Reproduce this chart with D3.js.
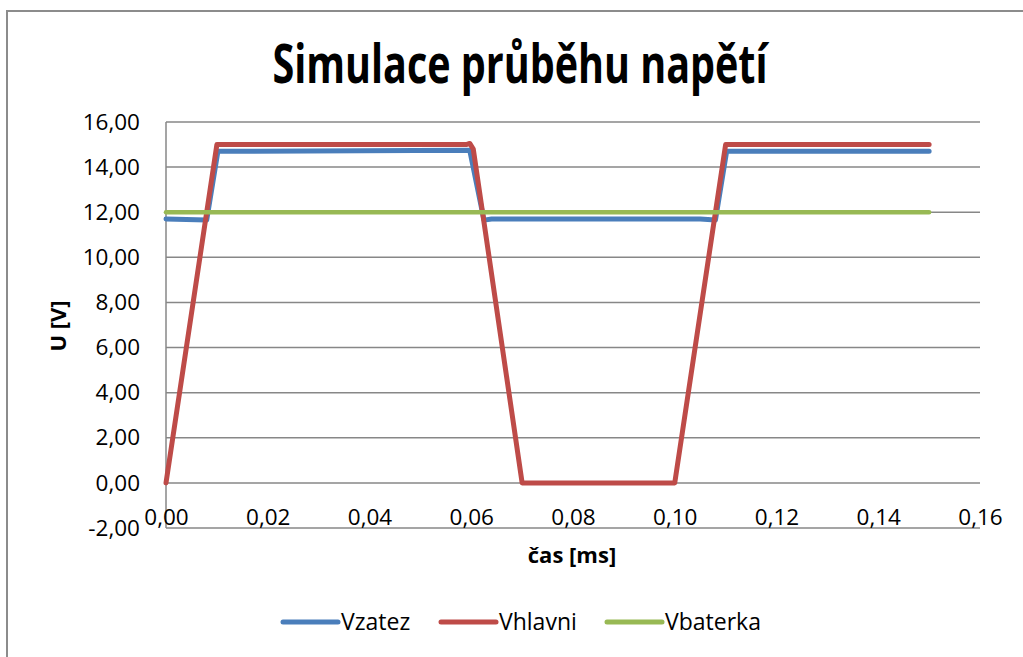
<!DOCTYPE html>
<meta charset="utf-8">
<script src="https://d3js.org/d3.v7.min.js"></script>
<style>
  body { margin: 0; background: #fff; }
  text { font-family: "Open Sans", sans-serif; fill: #000; }
</style>
<body>
<svg width="1023" height="657"></svg>
<script>
// data (time in ms, voltage in V)
var xTicks = [0, 0.02, 0.04, 0.06, 0.08, 0.10, 0.12, 0.14, 0.16];
var yTicks = [-2, 0, 2, 4, 6, 8, 10, 12, 14, 16];
var seriesNames = ["Vzatez", "Vhlavni", "Vbaterka"];
var seriesColors = ["#4a7ebb", "#be4b48", "#98b954"];

var vzatez = [[0, 11.7], [0.008, 11.65], [0.0102, 14.7], [0.0597, 14.75], [0.0625, 11.65],
              [0.064, 11.7], [0.105, 11.7], [0.108, 11.65], [0.1102, 14.7], [0.15, 14.7]];
var vhlavni = [[0, 0], [0.01, 15], [0.059, 15], [0.0597, 15.05], [0.0604, 14.8], [0.07, 0],
               [0.1, 0], [0.11, 15], [0.15, 15]];
var vbaterka = [[0, 12], [0.15, 12]];

var svg = d3.select("svg");
var f2 = d3.formatLocale({decimal: ",", thousands: " ", grouping: [3], currency: ["", ""], minus: "-"}).format(".2f");

var x = d3.scaleLinear().domain([0, 0.16]).range([166, 980]);
var y = d3.scaleLinear().domain([-2, 16]).range([528, 122]);

// chart border
svg.append("rect").attr("x", 7).attr("y", 11).attr("width", 1040).attr("height", 680)
  .attr("fill", "none").attr("stroke", "#8c8c8c").attr("stroke-width", 2);

// title
svg.append("text").attr("x", 520).attr("y", 83).attr("text-anchor", "middle")
  .attr("font-size", 54).attr("font-weight", "bold")
  .attr("textLength", 495).attr("lengthAdjust", "spacingAndGlyphs")
  .text("Simulace průběhu napětí");

// gridlines
svg.append("g").selectAll("line").data(yTicks).join("line")
  .attr("x1", x(0)).attr("x2", x(0.16))
  .attr("y1", d => y(d)).attr("y2", d => y(d))
  .attr("stroke", "#878787").attr("stroke-width", 1.5);

// left axis line
svg.append("line").attr("x1", x(0)).attr("x2", x(0)).attr("y1", y(16)).attr("y2", y(-2))
  .attr("stroke", "#878787").attr("stroke-width", 1.5);

// y axis labels
var yAxis = svg.append("g").attr("transform", "translate(" + x(0) + ",0)")
  .call(d3.axisLeft(y).tickValues(yTicks).tickFormat(f2).tickSize(0).tickPadding(26));
yAxis.select(".domain").remove();
yAxis.selectAll("text").attr("font-size", 22.5).attr("font-family", "Open Sans").attr("fill", "#000");

// x axis labels sit above the bottom line
var xAxis = svg.append("g").attr("transform", "translate(0," + y(-2) + ")")
  .call(d3.axisTop(x).tickValues(xTicks).tickFormat(f2).tickSize(0).tickPadding(3));
xAxis.select(".domain").remove();
xAxis.selectAll("text").attr("font-size", 22.5).attr("font-family", "Open Sans").attr("fill", "#000");

// axis titles
svg.append("text").attr("x", 572).attr("y", 563).attr("text-anchor", "middle")
  .attr("font-size", 22).attr("font-weight", "bold").text("čas [ms]");
svg.append("text").attr("transform", "translate(66,326) rotate(-90)").attr("text-anchor", "middle")
  .attr("font-size", 22).attr("font-weight", "bold").text("U [V]");

// lines
var line = d3.line().x(d => x(d[0])).y(d => y(d[1]));
var allSeries = [vzatez, vhlavni, vbaterka];
svg.append("g").selectAll("path").data(allSeries).join("path")
  .attr("d", line)
  .attr("fill", "none")
  .attr("stroke", (d, i) => seriesColors[i])
  .attr("stroke-width", (d, i) => i == 2 ? 4.5 : 5)
  .attr("stroke-linejoin", "round")
  .attr("stroke-linecap", "round");

// legend
var legendX = [283, 441, 607];
var lg = svg.append("g").selectAll("g").data(seriesNames).join("g")
  .attr("transform", (d, i) => "translate(" + legendX[i] + ",622)");
lg.append("line").attr("x1", 0).attr("x2", 55).attr("y1", 0).attr("y2", 0)
  .attr("stroke", (d, i) => seriesColors[i]).attr("stroke-width", 5).attr("stroke-linecap", "round");
lg.append("text").attr("x", 58).attr("y", 8).attr("font-size", 23).text(d => d);
</script>
</body>
